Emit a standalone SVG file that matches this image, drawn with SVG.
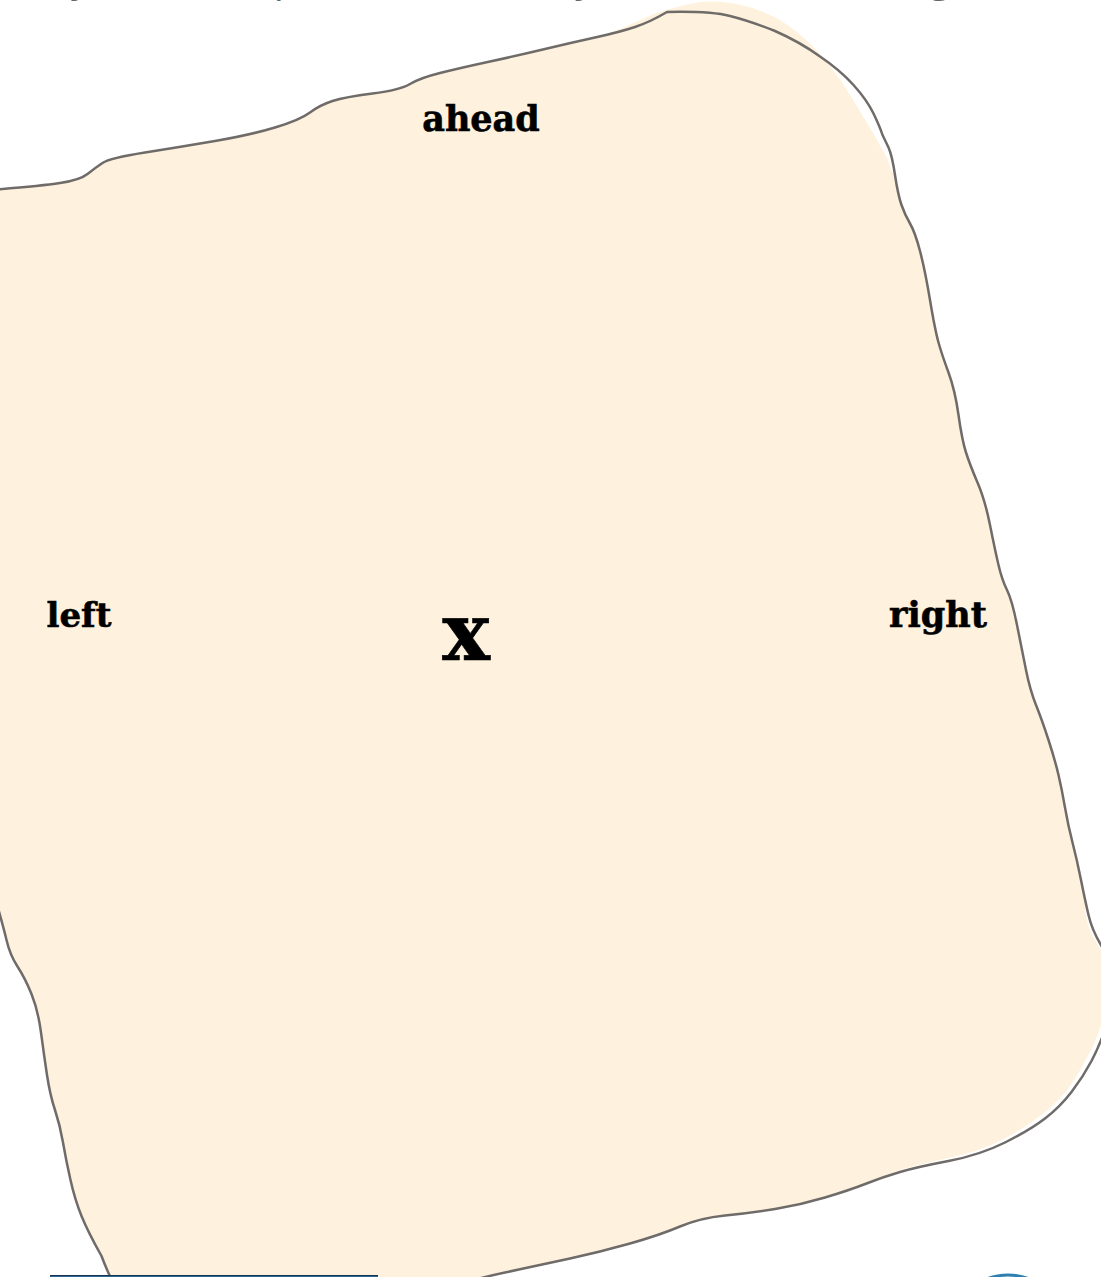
<svg xmlns="http://www.w3.org/2000/svg" width="1101" height="1277" viewBox="0 0 1101 1277">
<style>
.lbl{font-family:"DejaVu Serif",serif;font-weight:bold;fill:#000;stroke:#000;stroke-width:0.6;text-anchor:middle}
.cap{font-family:"Open Sans","Liberation Sans",sans-serif;font-size:40px;fill:#666}
</style>
<rect width="1101" height="1277" fill="#fff"/>
<text class="cap" y="-9"><tspan x="-10">Every turtle</tspan><tspan x="218">step has three</tspan><tspan x="522">ways</tspan><tspan x="625">(ahead,</tspan><tspan x="765">left,</tspan><tspan x="852">or right)</tspan></text>
<g id="area">
<path fill="#fef2df" d="M-10,190 Q40,186 60,183 Q80,180 87.5,174 Q95,168 102.5,163 Q110,158 145,152.5 Q180,147 215,141 Q250,135 275,127.5 Q300,120 310,112.5 Q320,105 332.5,101 Q345,97 372.5,93.5 Q400,90 410,84 Q420,78 440,73 Q460,68 490,61.5 Q520,55 545,49 Q570,43 595,37.5 Q620,30 640,20 Q665,8 700,2 Q740,-2 780,20 Q820,45 850,95 Q875,135 888,160 Q892,175 895,175 Q898,195 901.5,205 Q905,215 910,223.5 Q915,232 920,251 Q925,270 930,300 Q935,330 938.5,342.5 Q942,355 948.5,372.5 Q955,390 958.5,415 Q962,440 966,452.5 Q970,465 977.5,482.5 Q985,500 990,525 Q995,550 998.5,565 Q1002,580 1007,590 Q1012,600 1017,625 Q1022,650 1026,670 Q1030,690 1036,705 Q1042,720 1048.5,740 Q1055,760 1058.5,775 Q1062,790 1065,807.5 Q1068,825 1072.5,842.5 Q1077,860 1081,880 Q1085,900 1086,915 Q1088,930 1098,945 Q1108,960 1108,980 Q1110,1000 1102,1022 Q1095,1045 1085,1061 Q1077,1077 1067,1090 Q1055,1105 1040,1116 Q1025,1128 1002,1140 Q978,1152 948,1158 Q917,1165 900,1170 Q883,1176 866.5,1183.5 Q850,1190 825,1197.5 Q800,1205 775,1209 Q750,1213 725,1215.5 Q700,1218 680,1226.5 Q660,1235 630,1243.5 Q600,1252 570,1258.5 Q540,1265 505,1272.5 Q470,1280 400,1300 L140,1320 Q118,1300 101.5,1256 Q88,1232 81.5,1216 Q75,1200 70.5,1180 Q66,1160 63,1142.5 Q60,1125 55,1110 Q50,1095 47,1075 Q44,1055 41,1032.5 Q38,1010 31.5,994 Q25,978 17.5,966.5 Q10,955 6.5,940 Q3,925 -10,880 Z"/>
<path fill="none" stroke="#6f6b69" stroke-width="2.5" stroke-linejoin="round" d="M-10,190 Q40,186 60,183 Q80,180 87.5,174 Q95,168 102.5,163 Q110,158 145,152.5 Q180,147 215,141 Q250,135 275,127.5 Q300,120 310,112.5 Q320,105 332.5,101 Q345,97 372.5,93.5 Q400,90 410,84 Q420,78 440,73 Q460,68 490,61.5 Q520,55 545,49 Q570,43 595,37.5 Q620,32 635,27 Q650,22 667,12 Q710,11 730,16 Q750,21 775,31 Q800,42 820,56.5 Q840,70 853.5,85 Q867,100 873.5,113.5 Q880,127 882.5,135 Q885,140 888.5,147.5 Q892,155 895,175 Q898,195 901.5,205 Q905,215 910,223.5 Q915,232 920,251 Q925,270 930,300 Q935,330 938.5,342.5 Q942,355 948.5,372.5 Q955,390 958.5,415 Q962,440 966,452.5 Q970,465 977.5,482.5 Q985,500 990,525 Q995,550 998.5,565 Q1002,580 1007,590 Q1012,600 1017,625 Q1022,650 1026,670 Q1030,690 1036,705 Q1042,720 1048.5,740 Q1055,760 1058.5,775 Q1062,790 1065,807.5 Q1068,825 1072.5,842.5 Q1077,860 1081,880 Q1085,900 1088.5,915 Q1092,930 1101,945 Q1110,960 1112.5,980 Q1115,1000 1107.5,1022.5 Q1100,1045 1091.5,1061 Q1083,1077 1071.5,1092 Q1060,1107 1045,1118.5 Q1030,1130 1005,1142.5 Q980,1155 948.5,1161 Q917,1167 900,1172 Q883,1177 866.5,1183.5 Q850,1190 825,1197.5 Q800,1205 775,1209 Q750,1213 725,1215.5 Q700,1218 680,1226.5 Q660,1235 630,1243.5 Q600,1252 570,1258.5 Q540,1265 505,1272.5 Q470,1280 420,1295"/>
<path fill="none" stroke="#6f6b69" stroke-width="2.5" stroke-linejoin="round" d="M140,1320 Q118,1300 101.5,1256 Q88,1232 81.5,1216 Q75,1200 70.5,1180 Q66,1160 63,1142.5 Q60,1125 55,1110 Q50,1095 47,1075 Q44,1055 41,1032.5 Q38,1010 31.5,994 Q25,978 17.5,966.5 Q10,955 6.5,940 Q3,925 -10,880"/>
</g>
<g id="label-ahead"><text class="lbl" x="481" y="131" font-size="35">ahead</text></g>
<g id="label-left"><text class="lbl" x="79" y="627" font-size="34">left</text></g>
<g id="label-right"><text class="lbl" x="938" y="627" font-size="35">right</text></g>
<g id="label-x"><text class="lbl" x="466" y="660" font-size="80">x</text></g>
<g id="bottom-box"><rect x="50" y="1275" width="328" height="3" fill="#2c6796"/><rect x="50" y="1275" width="328" height="1" fill="#163552"/></g>
<g id="bottom-circle"><circle cx="1008" cy="1332" r="57" fill="none" stroke="#2f7fb0" stroke-width="3"/></g>
</svg>
